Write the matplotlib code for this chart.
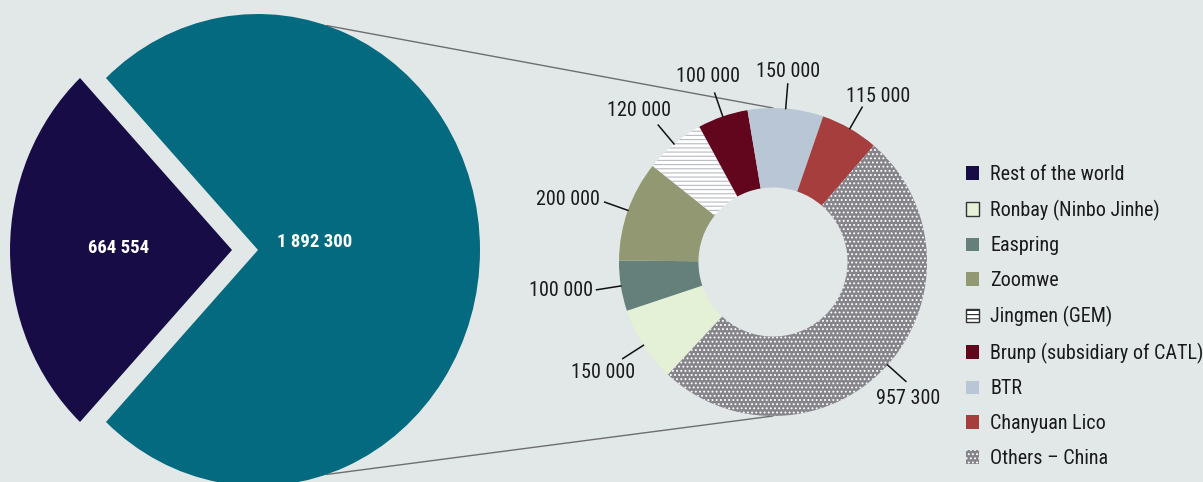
import numpy as np
import matplotlib
matplotlib.use("Agg")
import matplotlib.pyplot as plt
from matplotlib import font_manager
from matplotlib.patches import Patch, ConnectionPatch

# ---------------------------------------------------------------
# data
# ---------------------------------------------------------------
world_labels = ["Rest of the world", "China"]
world_values = [664554, 1892300]

china_labels = [
    "Ronbay (Ninbo Jinhe)",
    "Easpring",
    "Zoomwe",
    "Jingmen (GEM)",
    "Brunp (subsidiary of CATL)",
    "BTR",
    "Chanyuan Lico",
    "Others – China",
]
china_values = [150000, 100000, 200000, 120000, 100000, 150000, 115000, 957300]

# ---------------------------------------------------------------
# style
# ---------------------------------------------------------------
BG = "#e2e8e8"
NAVY = "#170c45"
TEAL = "#046a80"
china_colors = ["#e4f1d6", "#65807b", "#919872", "#ffffff",
                "#62061e", "#b8c6d5", "#a63e3e", "#85848a"]
china_hatch = [None, None, None, "----", None, None, None, "...."]
china_hatch_col = [None, None, None, "#bcbec6", None, None, None, "#ffffff"]

# where each donut label sits relative to the end of its leader (pixels, y down)
label_offsets = [(-20, 14), (-36, 1), (-37, -3), (-19, -15),
                 (-7, -17), (0, -12), (16, -11), (2, 17)]

available = {f.name for f in font_manager.fontManager.ttflist}
FONT = "DejaVu Sans"
for name in ["Roboto Condensed", "Liberation Sans Narrow", "Open Sans Condensed", "Roboto"]:
    if name in available:
        FONT = name
        break
plt.rcParams["font.family"] = [FONT, "DejaVu Sans"]
plt.rcParams["hatch.linewidth"] = 0.85

def fmt(v):
    return f"{v:,}".replace(",", " ")

FIG_W, FIG_H = 1203, 482
fig = plt.figure(figsize=(FIG_W / 100, FIG_H / 100), dpi=100, facecolor=BG)

# big pie: pixel centre and radii (slightly taller than wide)
P1_CX, P1_CY, P1_RX, P1_RY = 258, 232, 222, 236
# donut: pixel centre and radius
P2_CX, P2_CY, P2_R = 773, 220, 154

def full_axes(cx, cy, rx, ry):
    ax = fig.add_axes([0, 0, 1, 1])
    ax.patch.set_visible(False)
    ax.set_axis_off()
    return ax, ((0 - cx) / rx, (FIG_W - cx) / rx), ((0 - cy) / ry, (FIG_H - cy) / ry)

# ---------------------------------------------------------------
# big pie (world)
# ---------------------------------------------------------------
ax1, xl1, yl1 = full_axes(P1_CX, P1_CY, P1_RX, P1_RY)
total = sum(world_values)
start = 180 - 360 * world_values[0] / total / 2
w1, _ = ax1.pie(world_values, colors=[NAVY, TEAL], startangle=start,
                explode=[0.117, 0], wedgeprops=dict(linewidth=0))
ax1.set_aspect("auto")
ax1.set_xlim(*xl1)
ax1.set_ylim(*yl1)

for w, v, d, dy in zip(w1, world_values, [0.51, 0.257], [0.008, 0.034]):
    ang = np.deg2rad((w.theta1 + w.theta2) / 2)
    cx, cy = w.center
    ax1.text(cx + d * np.cos(ang), cy + d * np.sin(ang) + dy, fmt(v),
             ha="center", va="center", color="white", fontsize=13.5,
             fontweight="bold")

# ---------------------------------------------------------------
# donut (China)
# ---------------------------------------------------------------
ax2, xl2, yl2 = full_axes(P2_CX, P2_CY, P2_R, P2_R)
w2, _ = ax2.pie(china_values, colors=china_colors, startangle=227,
                counterclock=False,
                wedgeprops=dict(width=0.516, linewidth=0))
for w, h, hc in zip(w2, china_hatch, china_hatch_col):
    if h:
        w.set_hatch(h)
        w.set_edgecolor(hc)
        w.set_linewidth(0)
ax2.set_aspect("auto")
ax2.set_xlim(*xl2)
ax2.set_ylim(*yl2)

for w, v, (ox, oy) in zip(w2, china_values, label_offsets):
    ang = np.deg2rad((w.theta1 + w.theta2) / 2)
    c, s = np.cos(ang), np.sin(ang)
    ax2.plot([1.0 * c, 1.16 * c], [1.0 * s, 1.16 * s], color="#111111", lw=1.1)
    ax2.text(1.16 * c + ox / P2_R, 1.16 * s - oy / P2_R, fmt(v),
             ha="center", va="center", fontsize=14.5, color="#1a1a1a")

# lines linking China slice to the donut
for a, yb in [(72, 1), (-72, -1)]:
    con = ConnectionPatch(xyA=(np.cos(np.deg2rad(a)), np.sin(np.deg2rad(a))),
                          coordsA=ax1.transData,
                          xyB=(0, yb), coordsB=ax2.transData,
                          color="#6e6e6e", lw=1.0, zorder=0.5)
    ax1.add_artist(con)

# ---------------------------------------------------------------
# legend
# ---------------------------------------------------------------
handles = [Patch(facecolor=NAVY, edgecolor=NAVY, linewidth=0)]
for lab, col, h, hc in zip(china_labels, china_colors, china_hatch, china_hatch_col):
    if lab.startswith("Ronbay") or lab.startswith("Jingmen"):
        handles.append(Patch(facecolor=col, edgecolor="#333333", linewidth=1.0, hatch=h))
    elif h:
        handles.append(Patch(facecolor=col, edgecolor=hc, linewidth=0, hatch=h))
    else:
        handles.append(Patch(facecolor=col, edgecolor=col, linewidth=0))

fig.legend(handles, [world_labels[0]] + china_labels,
           loc="upper left", bbox_to_anchor=(966 / FIG_W, 1 - 165 / FIG_H),
           frameon=False, fontsize=14.5, handlelength=0.65, handleheight=0.65,
           handletextpad=0.55, labelspacing=0.78, borderpad=0,
           borderaxespad=0, labelcolor="#1a1a1a")

fig.savefig("out.png", dpi=100, facecolor=BG)
